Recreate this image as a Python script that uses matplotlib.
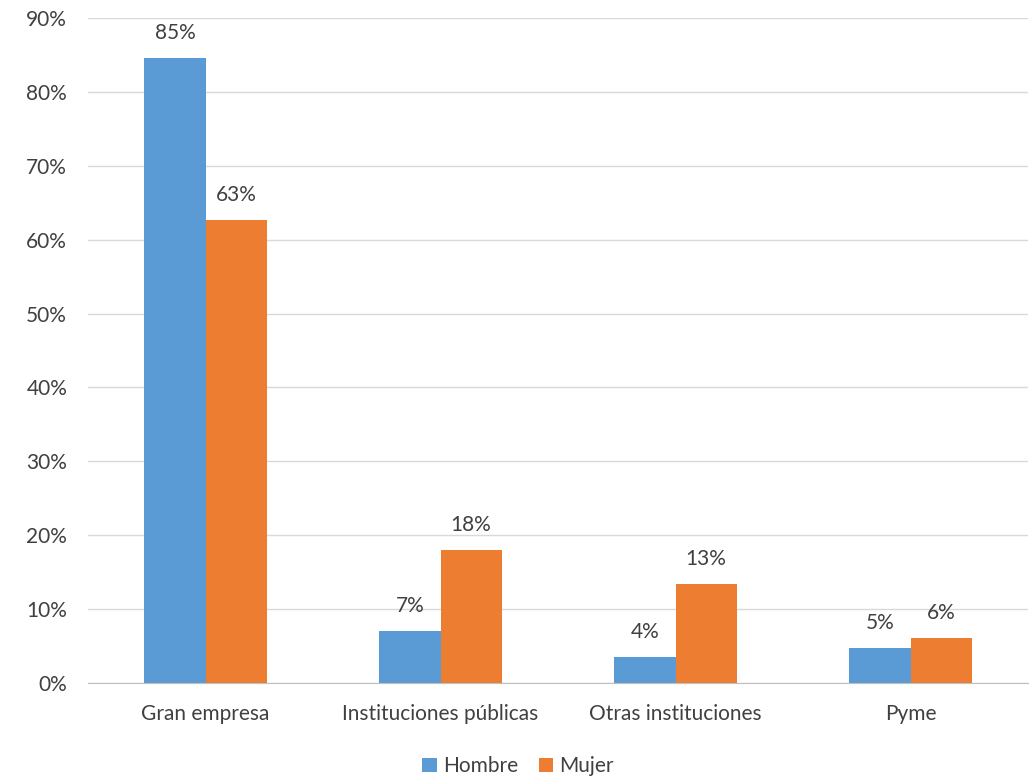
import matplotlib.pyplot as plt
import numpy as np

plt.rcParams['font.family'] = ['Lato', 'DejaVu Sans']
plt.rc('font', size=15)

# datos
categorias = ['Gran empresa', 'Instituciones públicas', 'Otras instituciones', 'Pyme']
hombre = [84.6, 7.0, 3.5, 4.7]
mujer = [62.7, 18.0, 13.4, 6.1]
series = ['Hombre', 'Mujer']
colores = ['#5B9BD5', '#ED7D31']

fig = plt.figure(figsize=(10.36, 7.78), dpi=100)
ax = fig.add_axes([88/1036, 95/778, 940/1036, 665/778])

x = np.arange(len(categorias))
w = 0.26
b1 = ax.bar(x - w/2, hombre, w, color=colores[0], label=series[0])
b2 = ax.bar(x + w/2, mujer, w, color=colores[1], label=series[1])

# etiquetas de valores
for bars, vals in [(b1, hombre), (b2, mujer)]:
    for bar, v in zip(bars, vals):
        ax.text(bar.get_x() + bar.get_width()/2, v + 3.4, f"{v:.0f}%",
                ha='center', va='center', color='#404040', fontsize=15)

ax.set_xlim(-0.5, len(categorias) - 0.5)
ax.set_ylim(0, 90)
ax.set_yticks(np.arange(0, 91, 10))
ax.set_yticklabels([f"{t}%" for t in range(0, 91, 10)])
ax.set_xticks(x)
ax.set_xticklabels(categorias)
ax.tick_params(axis='both', length=0, colors='#404040', labelsize=15)
ax.tick_params(axis='x', pad=15)
ax.tick_params(axis='y', pad=15)
ax.grid(axis='y', color='#D9D9D9', linewidth=1)
ax.set_axisbelow(True)
for s in ['top', 'right', 'left']:
    ax.spines[s].set_visible(False)
ax.spines['bottom'].set_color('#BFBFBF')

fig.legend(loc='lower center', bbox_to_anchor=(0.5, -0.022), ncol=2, frameon=False,
           handlelength=0.7, handleheight=0.7, handletextpad=0.3, columnspacing=1.0,
           fontsize=15, labelcolor='#404040')

plt.savefig("out.png", dpi=100)
